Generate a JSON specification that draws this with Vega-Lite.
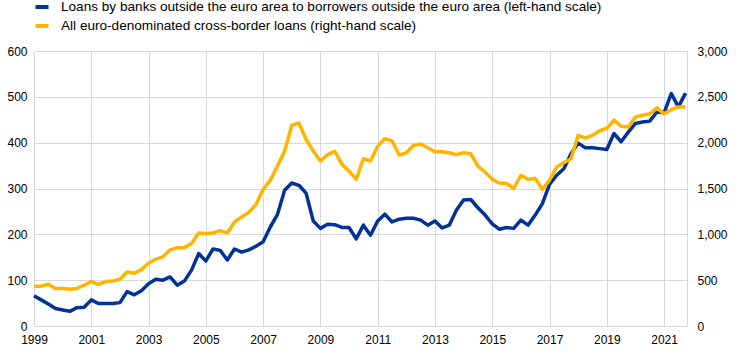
{
  "$schema": "https://vega.github.io/schema/vega-lite/v6.json",
  "autosize": {"type": "none"},
  "width": 653,
  "height": 275,
  "padding": {"left": 34, "top": 51, "right": 57, "bottom": 28},
  "background": "white",
  "config": {
    "font": "Liberation Sans",
    "view": {"stroke": null},
    "axis": {"labelFont": "Liberation Sans", "labelFontSize": 12, "labelColor": "#000000", "ticks": false, "gridColor": "#d9d9d9", "gridWidth": 1, "title": null}
  },
  "data": {"values": [
    {"t":1999.0,"loans":66,"all":435},{"t":1999.25,"loans":57,"all":435},{"t":1999.5,"loans":48,"all":455},{"t":1999.75,"loans":38,"all":410},
    {"t":2000.0,"loans":35,"all":410},{"t":2000.25,"loans":32,"all":400},{"t":2000.5,"loans":40,"all":410},{"t":2000.75,"loans":41,"all":445},
    {"t":2001.0,"loans":57,"all":485},{"t":2001.25,"loans":49,"all":455},{"t":2001.5,"loans":49,"all":485},{"t":2001.75,"loans":49,"all":490},
    {"t":2002.0,"loans":51,"all":510},{"t":2002.25,"loans":75,"all":590},{"t":2002.5,"loans":68,"all":575},{"t":2002.75,"loans":77,"all":615},
    {"t":2003.0,"loans":92,"all":685},{"t":2003.25,"loans":102,"all":730},{"t":2003.5,"loans":100,"all":755},{"t":2003.75,"loans":107,"all":830},
    {"t":2004.0,"loans":89,"all":855},{"t":2004.25,"loans":98,"all":855},{"t":2004.5,"loans":122,"all":900},{"t":2004.75,"loans":158,"all":1015},
    {"t":2005.0,"loans":142,"all":1010},{"t":2005.25,"loans":168,"all":1015},{"t":2005.5,"loans":165,"all":1040},{"t":2005.75,"loans":144,"all":1015},
    {"t":2006.0,"loans":168,"all":1135},{"t":2006.25,"loans":161,"all":1190},{"t":2006.5,"loans":166,"all":1240},{"t":2006.75,"loans":174,"all":1325},
    {"t":2007.0,"loans":184,"all":1490},{"t":2007.25,"loans":216,"all":1590},{"t":2007.5,"loans":243,"all":1745},{"t":2007.75,"loans":296,"all":1905},
    {"t":2008.0,"loans":312,"all":2190},{"t":2008.25,"loans":307,"all":2215},{"t":2008.5,"loans":290,"all":2035},{"t":2008.75,"loans":229,"all":1910},
    {"t":2009.0,"loans":213,"all":1800},{"t":2009.25,"loans":222,"all":1870},{"t":2009.5,"loans":221,"all":1905},{"t":2009.75,"loans":215,"all":1765},
    {"t":2010.0,"loans":215,"all":1690},{"t":2010.25,"loans":190,"all":1600},{"t":2010.5,"loans":220,"all":1825},{"t":2010.75,"loans":198,"all":1800},
    {"t":2011.0,"loans":229,"all":1960},{"t":2011.25,"loans":244,"all":2045},{"t":2011.5,"loans":227,"all":2020},{"t":2011.75,"loans":233,"all":1865},
    {"t":2012.0,"loans":235,"all":1890},{"t":2012.25,"loans":235,"all":1970},{"t":2012.5,"loans":231,"all":1985},{"t":2012.75,"loans":220,"all":1945},
    {"t":2013.0,"loans":229,"all":1900},{"t":2013.25,"loans":214,"all":1900},{"t":2013.5,"loans":220,"all":1890},{"t":2013.75,"loans":253,"all":1870},
    {"t":2014.0,"loans":275,"all":1890},{"t":2014.25,"loans":276,"all":1880},{"t":2014.5,"loans":258,"all":1745},{"t":2014.75,"loans":242,"all":1680},
    {"t":2015.0,"loans":223,"all":1600},{"t":2015.25,"loans":211,"all":1560},{"t":2015.5,"loans":215,"all":1555},{"t":2015.75,"loans":213,"all":1500},
    {"t":2016.0,"loans":231,"all":1645},{"t":2016.25,"loans":220,"all":1600},{"t":2016.5,"loans":242,"all":1610},{"t":2016.75,"loans":267,"all":1490},
    {"t":2017.0,"loans":309,"all":1590},{"t":2017.25,"loans":329,"all":1735},{"t":2017.5,"loans":343,"all":1780},{"t":2017.75,"loans":376,"all":1825},
    {"t":2018.0,"loans":399,"all":2080},{"t":2018.25,"loans":389,"all":2050},{"t":2018.5,"loans":389,"all":2080},{"t":2018.75,"loans":387,"all":2130},
    {"t":2019.0,"loans":385,"all":2155},{"t":2019.25,"loans":420,"all":2245},{"t":2019.5,"loans":402,"all":2180},{"t":2019.75,"loans":423,"all":2170},
    {"t":2020.0,"loans":442,"all":2280},{"t":2020.25,"loans":445,"all":2300},{"t":2020.5,"loans":447,"all":2315},{"t":2020.75,"loans":467,"all":2380},
    {"t":2021.0,"loans":465,"all":2315},{"t":2021.25,"loans":507,"all":2360},{"t":2021.5,"loans":478,"all":2390},{"t":2021.75,"loans":508,"all":2390}
  ]},
  "encoding": {
    "x": {"field": "t", "type": "quantitative",
      "scale": {"domain": [1999, 2021.8], "nice": false, "zero": false},
      "axis": {"values": [1999,2001,2003,2005,2007,2009,2011,2013,2015,2017,2019,2021], "format": "d", "labelPadding": 8, "domain": false, "grid": true, "labelFlush": false}}
  },
  "layer": [
    {
      "mark": {"type": "line", "strokeWidth": 3.5, "strokeJoin": "round"},
      "encoding": {
        "y": {"field": "loans", "type": "quantitative", "scale": {"domain": [0, 600], "nice": false},
          "axis": {"orient": "left", "values": [0,100,200,300,400,500,600], "grid": true, "domain": false, "labelPadding": 7}},
        "color": {"datum": "Loans by banks outside the euro area to borrowers outside the euro area (left-hand scale)", "type": "nominal",
          "scale": {"domain": ["Loans by banks outside the euro area to borrowers outside the euro area (left-hand scale)", "All euro-denominated cross-border loans (right-hand scale)"], "range": ["#003299", "#ffb400"]},
          "legend": {"orient": "none", "legendX": -1, "legendY": -53, "title": null, "symbolType": "stroke", "symbolSize": 170, "symbolStrokeWidth": 4, "labelFont": "Liberation Sans", "labelFontSize": 13.6, "labelColor": "#000000", "labelOffset": 10, "rowPadding": 2, "padding": 0, "labelLimit": 700}}
      }
    },
    {
      "mark": {"type": "line", "strokeWidth": 3.5, "strokeJoin": "round"},
      "encoding": {
        "y": {"field": "all", "type": "quantitative", "scale": {"domain": [0, 3000], "nice": false},
          "axis": {"orient": "right", "values": [0,500,1000,1500,2000,2500,3000], "format": ",.0f", "grid": false, "domain": true, "domainColor": "#d9d9d9", "labelPadding": 10}},
        "color": {"datum": "All euro-denominated cross-border loans (right-hand scale)", "type": "nominal"}
      }
    }
  ],
  "resolve": {"scale": {"y": "independent"}}
}
